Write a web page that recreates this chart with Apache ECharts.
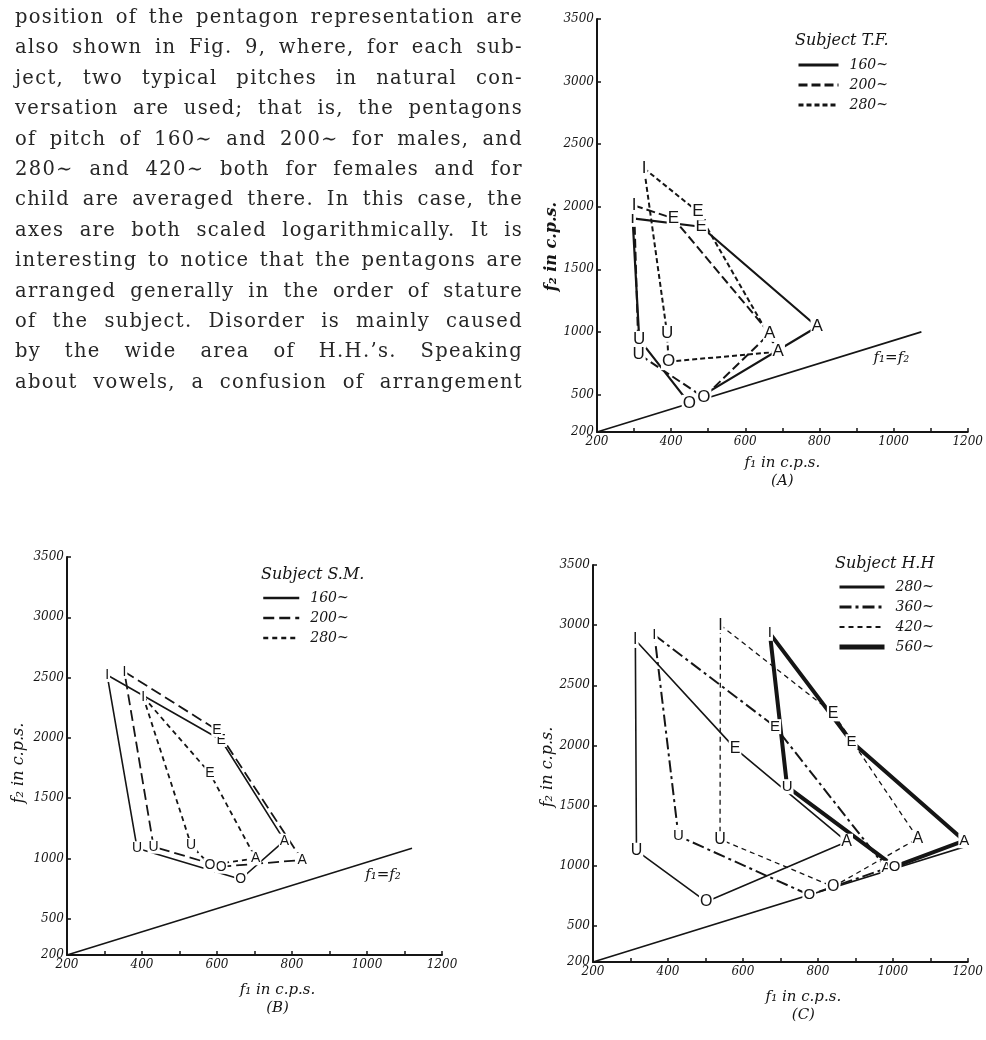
<!DOCTYPE html>
<html>
<head>
<meta charset="utf-8">
<script src="https://cdn.jsdelivr.net/npm/echarts@6.0.0/dist/echarts.min.js"></script>
<style>
  body { margin: 0; background: #fff; }
  #page { position: relative; width: 986px; height: 1040px; overflow: hidden; }
  #chart { position: absolute; left: 0; top: 0; width: 986px; height: 1040px; }
  .para {
    position: absolute; left: 15px; top: 2px; width: 508px;
    font-family: 'DejaVu Serif', serif; font-size: 19.5px; line-height: 30.4px;
    letter-spacing: 1.3px; color: #262626;
  }
  .para div { text-align: justify; text-align-last: justify; white-space: nowrap; }
</style>
</head>
<body>
<div id="page">
  <div id="chart"></div>
  <div class="para">
    <div>position of the pentagon representation are</div>
    <div>also shown in Fig. 9, where, for each sub-</div>
    <div>ject, two typical pitches in natural con-</div>
    <div>versation are used; that is, the pentagons</div>
    <div>of pitch of 160∼ and 200∼ for males, and</div>
    <div>280∼ and 420∼ both for females and for</div>
    <div>child are averaged there. In this case, the</div>
    <div>axes are both scaled logarithmically. It is</div>
    <div>interesting to notice that the pentagons are</div>
    <div>arranged generally in the order of stature</div>
    <div>of the subject. Disorder is mainly caused</div>
    <div>by the wide area of H.H.’s. Speaking</div>
    <div>about vowels, a confusion of arrangement</div>
  </div>
</div>
<script>
// vowel order of each pentagon
const vowels = ['I', 'E', 'A', 'O', 'U']

// ticks / labels (same on all three panels)
const xTicks = [200, 300, 400, 500, 600, 700, 800, 900, 1000, 1100, 1200]
const xLabels = [200, 400, 600, 800, 1000, 1200]
const yLabels = [200, 500, 1000, 1500, 2000, 2500, 3000, 3500]

// (A) Subject T.F.  [f1, f2] for I, E, A, O, U
const tf160 = [[296, 1907], [481, 1840], [794, 1041], [449, 429], [314, 940]]
const tf200 = [[300, 2010], [406, 1907], [666, 988], [488, 477], [312, 823]]
const tf280 = [[327, 2306], [472, 1960], [689, 841], [393, 762], [389, 988]]

// (B) Subject S.M.
const sm160 = [[307, 2522], [611, 1983], [780, 1148], [663, 828], [387, 1085]]
const sm200 = [[353, 2549], [600, 2066], [827, 988], [611, 932], [431, 1098]]
const sm280 = [[403, 2342], [581, 1707], [703, 1002], [581, 946], [531, 1112]]

// (C) Subject H.H
const hh280 = [[313, 2877], [579, 1976], [877, 1200], [502, 701], [316, 1125]]
const hh360 = [[364, 2918], [686, 2156], [983, 979], [777, 757], [428, 1247]]
const hh420 = [[540, 3000], [841, 2267], [1067, 1228], [841, 826], [539, 1220]]
const hh560 = [[672, 2932], [890, 2031], [1191, 1208], [1005, 992], [718, 1657]]

// the f1 = f2 reference line as drawn on each panel
const diagA = [[200, 200], [1075, 1000]]
const diagB = [[200, 200], [1120, 1085]]
const diagC = [[200, 200], [1235, 1200]]

const ink = '#151515'
const hand = { fontFamily: 'DejaVu Serif', fontStyle: 'italic', color: ink }

function pentagon(pts) {
  const items = pts.map((p, i) => ({ value: p, vowel: vowels[i] }))
  items.push({ value: pts[0], vowel: '', label: { show: false } })
  return items
}

function shape(name, pts, g, lineStyle, fontSize) {
  return {
    type: 'line',
    name,
    xAxisIndex: g,
    yAxisIndex: g,
    data: pentagon(pts),
    symbol: 'circle',
    symbolSize: 2,
    itemStyle: { color: 'rgba(0,0,0,0)' },
    lineStyle: Object.assign({ color: ink }, lineStyle),
    label: {
      show: true,
      position: 'inside',
      formatter: (p) => p.data.vowel,
      fontFamily: 'Liberation Sans',
      fontSize: fontSize || 17,
      color: ink,
      backgroundColor: '#fff',
      padding: [0, 1]
    },
    emphasis: { disabled: true },
    animation: false
  }
}

function diagonal(pts, g, offset) {
  return {
    type: 'line',
    xAxisIndex: g,
    yAxisIndex: g,
    data: [pts[0], {
      value: pts[1],
      label: { show: true, position: 'inside', formatter: 'f₁=f₂', offset, fontSize: 15, ...hand }
    }],
    symbol: 'circle',
    symbolSize: 1,
    itemStyle: { color: 'rgba(0,0,0,0)' },
    lineStyle: { color: ink, width: 1.6 },
    emphasis: { disabled: true },
    animation: false
  }
}

function xAx(g, name, gap, shift) {
  return {
    type: 'value', gridIndex: g, min: 200, max: 1200,
    axisLine: { show: true, onZero: false, lineStyle: { color: ink, width: 2 } },
    axisTick: { show: true, inside: true, length: 4, customValues: xTicks, lineStyle: { color: ink, width: 1.5 } },
    axisLabel: { customValues: xLabels, formatter: (v) => String(v), fontSize: 12, margin: 4, ...hand },
    splitLine: { show: false },
    name, nameLocation: 'middle', nameGap: gap,
    nameTextStyle: { fontSize: 15, lineHeight: 18, padding: [0, 0, 0, shift], ...hand }
  }
}

function yAx(g, name, gap, shift, bold) {
  return {
    type: 'value', gridIndex: g, min: 200, max: 3500,
    axisLine: { show: true, onZero: false, lineStyle: { color: ink, width: 2 } },
    axisTick: { show: true, inside: true, length: 4, customValues: yLabels, lineStyle: { color: ink, width: 1.5 } },
    axisLabel: { customValues: yLabels, formatter: (v) => String(v), fontSize: 12, margin: 3, ...hand },
    splitLine: { show: false },
    name, nameLocation: 'middle', nameGap: gap,
    nameTextStyle: { fontSize: 16, fontWeight: bold ? 'bold' : 'normal', padding: [0, shift, 0, 0], ...hand }
  }
}

function legend(names, widths, left, top, itemWidth) {
  return {
    data: names.map((n, i) => ({ name: n, lineStyle: { width: widths[i] } })),
    left, top, orient: 'vertical',
    itemWidth, itemHeight: 12, itemGap: 6,
    formatter: (n) => n.split(' ')[1],
    textStyle: { fontSize: 14, padding: [0, 0, 0, 6], ...hand },
    selectedMode: false
  }
}

const chart = echarts.init(document.getElementById('chart'))

chart.setOption({
  backgroundColor: '#fff',
  animation: false,
  title: [
    { text: 'Subject T.F.', left: 790, top: 28, textStyle: { fontSize: 16, fontWeight: 'normal', ...hand } },
    { text: 'Subject S.M.', left: 256, top: 562, textStyle: { fontSize: 16, fontWeight: 'normal', ...hand } },
    { text: 'Subject H.H', left: 830, top: 551, textStyle: { fontSize: 16, fontWeight: 'normal', ...hand } }
  ],
  legend: [
    legend(['T.F. 160~', 'T.F. 200~', 'T.F. 280~'], [3, 3, 3], 792, 53, 40),
    legend(['S.M. 160~', 'S.M. 200~', 'S.M. 280~'], [2.5, 2.5, 2.5], 257, 586, 36),
    legend(['H.H 280~', 'H.H 360~', 'H.H 420~', 'H.H 560~'], [3, 3, 2, 5], 832, 575, 45)
  ],
  grid: [
    { left: 597, top: 19, width: 378, height: 413 },
    { left: 67, top: 557, width: 375, height: 398 },
    { left: 593, top: 565, width: 375, height: 397 }
  ],
  xAxis: [
    xAx(0, 'f₁ in c.p.s.\n(A)', 22, 0),
    xAx(1, 'f₁ in c.p.s.\n(B)', 26, 46),
    xAx(2, 'f₁ in c.p.s.\n(C)', 26, 46)
  ],
  yAxis: [
    yAx(0, 'f₂ in c.p.s.', 36, 42, true),
    yAx(1, 'f₂ in c.p.s.', 40, 14),
    yAx(2, 'f₂ in c.p.s.', 34, 7)
  ],
  series: [
    diagonal(diagA, 0, [-30, 26]),
    shape('T.F. 160~', tf160, 0, { width: 2.2 }),
    shape('T.F. 200~', tf200, 0, { width: 2, type: [9, 4] }),
    shape('T.F. 280~', tf280, 0, { width: 2, type: [5, 3] }),

    diagonal(diagB, 1, [-29, 27]),
    shape('S.M. 160~', sm160, 1, { width: 1.6 }, 14),
    shape('S.M. 200~', sm200, 1, { width: 1.8, type: [11, 5] }, 14),
    shape('S.M. 280~', sm280, 1, { width: 1.8, type: [5, 4] }, 14),

    diagonal(diagC, 2, [-39, 25]),
    shape('H.H 280~', hh280, 2, { width: 1.6 }, 16),
    shape('H.H 360~', hh360, 2, { width: 2, type: [12, 4, 3, 4] }, 15),
    shape('H.H 420~', hh420, 2, { width: 1.3, type: [5, 4] }, 16),
    shape('H.H 560~', hh560, 2, { width: 4 }, 15)
  ]
})
</script>
</body>
</html>
